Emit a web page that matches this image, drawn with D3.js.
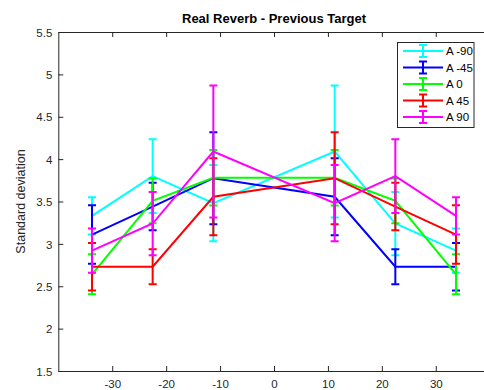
<!DOCTYPE html>
<html>
<head>
<meta charset="utf-8">
<script src="https://cdn.jsdelivr.net/npm/d3@7"></script>
<style>
  html, body { margin: 0; padding: 0; background: #ffffff; }
  svg { display: block; }
  text { font-family: "Liberation Sans", Arial, sans-serif; }
</style>
</head>
<body>
<svg id="chart" width="484" height="390"></svg>
<script>
// ---- data ----
const positions = [-33.75, -22.5, -11.25, 11.25, 22.5, 33.75];
const seriesNames = ["A -90", "A -45", "A 0", "A 45", "A 90"];
const meanAm90 = [3.33, 3.80, 3.48, 4.09, 3.24, 2.92];
const errAm90  = [0.22, 0.435, 0.45, 0.78, 0.373, 0.26];
const meanAm45 = [3.11, 3.44, 3.775, 3.556, 2.73, 2.73];
const errAm45  = [0.345, 0.28, 0.543, 0.455, 0.207, 0.28];
const meanA0   = [2.641, 3.507, 3.78, 3.78, 3.507, 2.641];
const errA0    = [0.236, 0.265, 0.327, 0.327, 0.265, 0.236];
const meanA45  = [2.73, 2.73, 3.556, 3.775, 3.44, 3.11];
const errA45   = [0.28, 0.207, 0.455, 0.543, 0.28, 0.345];
const meanA90  = [2.92, 3.24, 4.09, 3.48, 3.80, 3.33];
const errA90   = [0.26, 0.373, 0.78, 0.45, 0.435, 0.22];
const xTicks = [-30, -20, -10, 0, 10, 20, 30];
const yTicks = [1.5, 2, 2.5, 3, 3.5, 4, 4.5, 5, 5.5];
const titleText = "Real Reverb - Previous Target";
const yLabelText = "Standard deviation";

const colors = ["#00ffff", "#0000ff", "#00ff00", "#ff0000", "#ff00ff"];
const means = [meanAm90, meanAm45, meanA0, meanA45, meanA90];
const errs = [errAm90, errAm45, errA0, errA45, errA90];

// ---- layout ----
const svg = d3.select("#chart");
const L = 58.3, R = 489.7, T = 32, B = 371;
const x = d3.scaleLinear().domain([-40, 40]).range([L, R]);
const y = d3.scaleLinear().domain([1.5, 5.5]).range([B, T]);
const axisColor = "#262626";

svg.append("rect").attr("x", 0).attr("y", 0).attr("width", 484).attr("height", 390).attr("fill", "#ffffff");
svg.append("rect").attr("x", L).attr("y", T).attr("width", R - L).attr("height", B - T).attr("fill", "#ffffff");

svg.append("clipPath").attr("id", "clip").append("rect")
  .attr("x", L).attr("y", T).attr("width", R - L).attr("height", B - T);

// axes
const xAxis = d3.axisBottom(x).tickValues(xTicks).tickSizeInner(-5).tickSizeOuter(0).tickPadding(9).tickFormat(d => String(d));
const gx = svg.append("g").attr("transform", `translate(0,${B})`).call(xAxis);
const yAxis = d3.axisLeft(y).tickValues(yTicks).tickSizeInner(-5).tickSizeOuter(0).tickPadding(6).tickFormat(d => String(d));
const gy = svg.append("g").attr("transform", `translate(${L},0)`).call(yAxis);
const xTop = d3.axisTop(x).tickValues(xTicks).tickSizeInner(-5).tickSizeOuter(0).tickFormat("");
const gxt = svg.append("g").attr("transform", `translate(0,${T})`).call(xTop);
[gx, gy, gxt].forEach(g => {
  g.selectAll("path.domain").attr("stroke", axisColor).attr("stroke-width", 1);
  g.selectAll(".tick line").attr("stroke", axisColor).attr("stroke-width", 1);
  g.selectAll(".tick text").attr("fill", axisColor).style("font-size", "11.5px")
    .style("font-family", "'Liberation Sans', Arial, sans-serif");
});
gy.selectAll(".tick text").attr("dy", "0.36em");

// data
const plot = svg.append("g").attr("clip-path", "url(#clip)");
const capW = 4;
means.forEach((m, si) => {
  const pts = positions.map((p, i) => ({ px: p, v: m[i], e: errs[si][i] }));
  const g = plot.append("g");
  g.append("path").datum(pts)
    .attr("d", d3.line().x(d => x(d.px)).y(d => y(d.v)))
    .attr("fill", "none").attr("stroke", colors[si]).attr("stroke-width", 2);
  const eb = g.selectAll("g.eb").data(pts).enter().append("g");
  eb.append("line").attr("x1", d => x(d.px)).attr("x2", d => x(d.px))
    .attr("y1", d => y(d.v - d.e)).attr("y2", d => y(d.v + d.e))
    .attr("stroke", colors[si]).attr("stroke-width", 2);
  eb.append("line").attr("x1", d => x(d.px) - capW).attr("x2", d => x(d.px) + capW)
    .attr("y1", d => y(d.v + d.e)).attr("y2", d => y(d.v + d.e))
    .attr("stroke", colors[si]).attr("stroke-width", 2);
  eb.append("line").attr("x1", d => x(d.px) - capW).attr("x2", d => x(d.px) + capW)
    .attr("y1", d => y(d.v - d.e)).attr("y2", d => y(d.v - d.e))
    .attr("stroke", colors[si]).attr("stroke-width", 2);
});

// title
svg.append("text").attr("x", (L + R) / 2).attr("y", 23).attr("text-anchor", "middle")
  .style("font-size", "13px").style("font-weight", "bold").attr("fill", "#000").text(titleText);

// y label
svg.append("text").attr("transform", `translate(25,${(T + B) / 2}) rotate(-90)`)
  .attr("text-anchor", "middle").style("font-size", "12.5px").attr("fill", axisColor).text(yLabelText);

// legend
const lg = svg.append("g");
lg.append("rect").attr("x", 397.5).attr("y", 42.5).attr("width", 76.5).attr("height", 85)
  .attr("fill", "#ffffff").attr("stroke", axisColor).attr("stroke-width", 1);
seriesNames.forEach((name, i) => {
  const cy = 51 + i * 16.5;
  const c = colors[i];
  lg.append("line").attr("x1", 403).attr("x2", 443).attr("y1", cy).attr("y2", cy).attr("stroke", c).attr("stroke-width", 2);
  lg.append("line").attr("x1", 423).attr("x2", 423).attr("y1", cy - 6).attr("y2", cy + 6).attr("stroke", c).attr("stroke-width", 2);
  lg.append("line").attr("x1", 419).attr("x2", 427).attr("y1", cy - 6).attr("y2", cy - 6).attr("stroke", c).attr("stroke-width", 2);
  lg.append("line").attr("x1", 419).attr("x2", 427).attr("y1", cy + 6).attr("y2", cy + 6).attr("stroke", c).attr("stroke-width", 2);
  lg.append("text").attr("x", 446).attr("y", cy).attr("dy", "0.36em").style("font-size", "11.5px")
    .attr("fill", "#000").text(name);
});
</script>
</body>
</html>
